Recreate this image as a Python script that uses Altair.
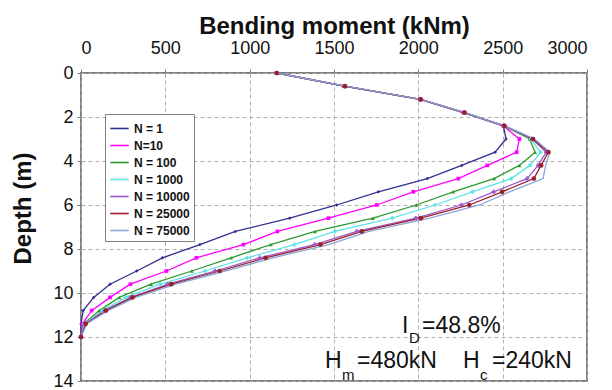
import altair as alt
import pandas as pd

depth = [0.0, 0.6, 1.2, 1.8, 2.4, 3.0, 3.6, 4.2, 4.8, 5.4, 6.0, 6.6, 7.2, 7.8, 8.4, 9.0, 9.6, 10.2, 10.8, 11.4, 12.0]
series_names = ["N = 1", "N=10", "N = 100", "N = 1000", "N = 10000", "N = 25000", "N = 75000"]
m_n1 = [1160, 1560, 2010, 2267, 2504, 2520, 2455, 2257, 2053, 1763, 1516, 1237, 915, 705, 483, 330, 172, 75, 13, 0, 0]
m_n10 = [1160, 1560, 2010, 2267, 2504, 2599, 2583, 2409, 2237, 1970, 1753, 1467, 1164, 963, 684, 506, 293, 172, 63, 8, 0]
m_n100 = [1160, 1562, 2012, 2270, 2506, 2660, 2692, 2599, 2449, 2206, 1988, 1731, 1387, 1125, 890, 657, 415, 227, 108, 15, 0]
m_n1000 = [1160, 1562, 2012, 2272, 2508, 2668, 2725, 2662, 2550, 2320, 2100, 1845, 1505, 1265, 985, 735, 470, 265, 125, 20, 0]
m_n10000 = [1160, 1565, 2014, 2274, 2510, 2675, 2758, 2710, 2645, 2447, 2255, 1985, 1635, 1385, 1060, 795, 515, 295, 140, 25, 0]
m_n25000 = [1160, 1565, 2014, 2274, 2510, 2680, 2771, 2728, 2685, 2497, 2302, 2015, 1665, 1420, 1095, 822, 535, 305, 148, 28, 0]
m_n75000 = [1160, 1568, 2016, 2276, 2512, 2690, 2780, 2755, 2740, 2540, 2362, 2068, 1707, 1468, 1137, 855, 562, 325, 160, 35, 0]
x_ticks = [0, 500, 1000, 1500, 2000, 2500, 3000]
y_ticks = [0, 2, 4, 6, 8, 10, 12, 14]

all_series = [m_n1, m_n10, m_n100, m_n1000, m_n10000, m_n25000, m_n75000]
rows = []
for name, vals in zip(series_names, all_series):
    for i, (d, m) in enumerate(zip(depth, vals)):
        rows.append({"series": name, "depth": d, "moment": m, "idx": i})
df = pd.DataFrame(rows)

colors = ["#2E3192", "#FF00FF", "#2E9A2E", "#5FE3E3", "#9B59C9", "#9A1F2A", "#8AA6D8"]
shapes = ["diamond", "square", "triangle-up", "cross", "cross", "circle", "circle"]
sizes = [12, 24, 12, 12, 12, 14, 0]

xscale = alt.Scale(domain=[0, 3000], nice=False)
yscale = alt.Scale(domain=[0, 14], reverse=True, nice=False)
cscale = alt.Scale(domain=series_names, range=colors)

base = alt.Chart(df)
lines = base.mark_line(strokeWidth=1.3).encode(
    x=alt.X("moment:Q", scale=xscale,
            axis=alt.Axis(orient="top", values=x_ticks, format="d", title="Bending moment (kNm)",
                          titleY=-40, titleBaseline="alphabetic")),
    y=alt.Y("depth:Q", scale=yscale,
            axis=alt.Axis(values=y_ticks, format="d", title="Depth (m)", titleX=-58, titleY=135,
                          titleAngle=-90, titleAlign="center", titleBaseline="middle")),
    color=alt.Color("series:N", scale=cscale, sort=series_names,
                    legend=alt.Legend(title=None, orient="none", legendX=24, legendY=41,
                                      symbolType="stroke", symbolSize=340, symbolStrokeWidth=1.6)),
    order="idx:Q",
    detail="series:N",
)
points = base.transform_filter(alt.datum.series != "N = 75000").mark_point(filled=True, opacity=1).encode(
    x="moment:Q",
    y="depth:Q",
    color=alt.Color("series:N", scale=cscale, sort=series_names, legend=None),
    shape=alt.Shape("series:N", scale=alt.Scale(domain=series_names, range=shapes), legend=None),
    size=alt.Size("series:N", scale=alt.Scale(domain=series_names, range=sizes), legend=None),
)

def txt(s, x, y, size):
    return alt.Chart(pd.DataFrame({"t": [s]})).mark_text(
        align="left", baseline="alphabetic", fontSize=size, font="Liberation Sans", color="#111"
    ).encode(text="t:N", x=alt.value(x), y=alt.value(y))

ann = [
    txt("I", 321, 260, 23), txt("D", 328, 270, 15), txt("=48.8%", 341, 260, 23),
    txt("H", 244, 295, 23), txt("m", 261, 307, 15), txt("=480kN", 276, 295, 23),
    txt("H", 382, 295, 23), txt("c", 399, 307, 15), txt("=240kN", 411, 295, 23),
]

chart = alt.layer(lines, points, *ann).resolve_legend(
    color="independent", shape="independent", size="independent"
).properties(
    width=506, height=308,
    autosize=alt.AutoSizeParams(type="none"),
    padding={"left": 73, "top": 65, "right": 17, "bottom": 9},
).configure_view(
    stroke="#808080", strokeWidth=2
).configure_axis(
    domain=False, grid=True, gridColor="#b0b0b0", gridDash=[4, 3], gridWidth=1,
    tickColor="#808080", tickSize=4,
    labelFont="Liberation Sans", labelFontSize=18, labelColor="#111",
    titleFont="Liberation Sans", titleFontSize=24, titleFontWeight="bold", titleColor="#111",
).configure_axisY(
    labelPadding=4,
).configure_axisX(
    labelPadding=12,
).configure_legend(
    strokeColor="#808080", fillColor="white", padding=4,
    rowPadding=0,
    labelFont="Liberation Sans", labelFontSize=12, labelFontWeight="bold", labelColor="#111",
)

chart.save("out.html", embed_options={"renderer": "svg", "actions": False})
